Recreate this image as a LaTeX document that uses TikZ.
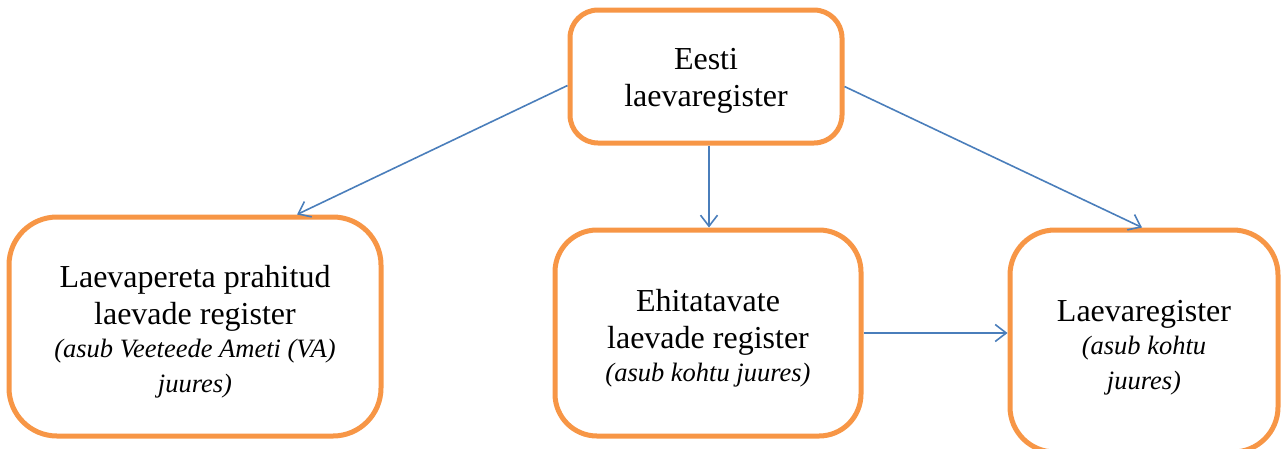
\documentclass[tikz,border=0pt]{standalone}
\usepackage{fontspec}
\setmainfont{Liberation Serif}
\usetikzlibrary{arrows.meta}
\definecolor{boxorange}{HTML}{F79646}
\definecolor{linkblue}{HTML}{4A7EBB}
\tikzset{
  regbox/.style={draw=boxorange, line width=5pt, fill=white, align=center,
    inner sep=0pt, font=\fontsize{32}{37}\selectfont},
  link/.style={draw=linkblue, line width=1.6pt,
    -{Straight Barb[length=11pt,width=17pt,line width=1.6pt]}}
}
\newcommand{\remark}[1]{{\fontsize{26.5}{31}\selectfont\itshape #1}}
\begin{document}
\begin{tikzpicture}[x=1pt,y=-1pt]
\useasboundingbox (0,0) rectangle (1281,448);
% registry boxes
\node[regbox, minimum width=272pt, minimum height=133pt, rounded corners=28pt]
  (top) at (706,76.5) {\rule{0pt}{30pt}Eesti\\laevaregister};
\node[regbox, minimum width=372pt, minimum height=219pt, rounded corners=48pt]
  (left) at (195,326.5) {\rule{0pt}{32pt}Laevapereta prahitud\\laevade register\\[-4pt]
  \remark{(asub Veeteede Ameti (VA)}\\[-2pt]\remark{juures)}};
\node[regbox, minimum width=306pt, minimum height=206pt, rounded corners=42pt]
  (mid) at (708,333) {\rule{0pt}{32pt}Ehitatavate\\laevade register\\[-4pt]\remark{(asub kohtu juures)}};
\node[regbox, minimum width=268pt, minimum height=222pt, rounded corners=45pt]
  (right) at (1144,341) {\rule{0pt}{34pt}Laevaregister\\[-4pt]\remark{(asub kohtu}\\[-2pt]\remark{juures)}};
% connectors
\draw[link] ([yshift=-9pt]top.west) -- ([xshift=102pt]left.north);
\draw[link] ([xshift=3pt]top.south) -- ([xshift=1pt]mid.north);
\draw[link] ([yshift=-10pt]top.east) -- ([xshift=-2pt]right.north);
\draw[link] (mid.east) -- (right.west |- mid.east);
\end{tikzpicture}
\end{document}
